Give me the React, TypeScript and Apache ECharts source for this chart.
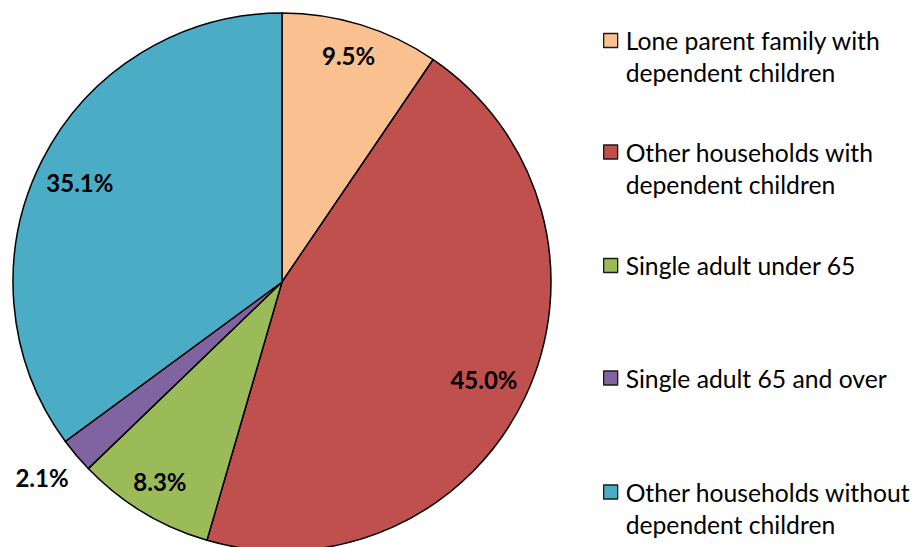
import React, { useEffect, useRef } from "react";
import * as echarts from "echarts";

const categories = [
  "Lone parent family with\ndependent children",
  "Other households with\ndependent children",
  "Single adult under 65",
  "Single adult 65 and over",
  "Other households without\ndependent children",
];
const values = [9.5, 45.0, 8.3, 2.1, 35.1];
const colors = ["#FAC090", "#C0504D", "#9BBB59", "#8064A2", "#4BACC6"];
const outsideLabel = [false, false, false, true, false];
const labelNudges = [
  [0, -10],
  [-3, 1],
  [-5, 6],
  [-3, -4],
  [0, 3],
];
const legendTops = [-7.5, 104, 249.5, 362, 444];

const FONT = "Lato";

export default function App() {
  const ref = useRef<HTMLDivElement>(null);
  useEffect(() => {
    if (!ref.current) return;
    const chart = echarts.init(ref.current, undefined, { renderer: "svg" });
    const center = [282, 282];
    const data = categories.map((name, i) => ({
      name,
      value: values[i],
      itemStyle: { color: colors[i] },
    }));
    const labelText = (p: any) => p.value.toFixed(1) + "%";
    const labelStyle = {
      fontFamily: FONT,
      fontWeight: "bold" as const,
      fontSize: 24,
      color: "#000",
    };
    const legends = categories.map((name, i) => {
      const twoLine = name.includes("\n");
      return {
        data: [name],
        orient: "vertical" as const,
        left: 603,
        top: legendTops[i],
        padding: 0,
        itemWidth: 14,
        itemHeight: 14,
        icon: "rect",
        itemStyle: { borderColor: "#1a1a1a", borderWidth: 1.3 },
        formatter: (n: string) => (twoLine ? " \n" + n : n),
        textStyle: {
          fontFamily: FONT,
          fontSize: 24.7,
          color: "#000",
          lineHeight: 32,
          padding: [0, 0, 0, 3],
        },
        selectedMode: false,
      };
    });
    chart.setOption({
      animation: false,
      backgroundColor: "#fff",
      legend: legends,
      series: [
        {
          type: "pie",
          center,
          radius: [0, 269],
          startAngle: 90,
          clockwise: true,
          silent: true,
          label: { show: false },
          labelLine: { show: false },
          itemStyle: { borderColor: "#000", borderWidth: 1.5 },
          data,
        },
        {
          type: "pie",
          center,
          radius: [178, 269],
          startAngle: 90,
          clockwise: true,
          silent: true,
          legendHoverLink: false,
          minShowLabelAngle: 0,
          itemStyle: { color: "rgba(0,0,0,0)", borderWidth: 0 },
          labelLine: { show: false },
          label: { show: true, position: "inside", formatter: labelText, ...labelStyle },
          data: data.map((d, i) => ({
            ...d,
            itemStyle: { color: "rgba(0,0,0,0)" },
            label: { show: !outsideLabel[i], offset: labelNudges[i] },
          })),
        },
        {
          type: "pie",
          center,
          radius: [290, 324],
          startAngle: 90,
          clockwise: true,
          silent: true,
          legendHoverLink: false,
          minShowLabelAngle: 0,
          itemStyle: { color: "rgba(0,0,0,0)", borderWidth: 0 },
          labelLine: { show: false },
          label: { show: true, position: "inside", formatter: labelText, ...labelStyle },
          data: data.map((d, i) => ({
            ...d,
            itemStyle: { color: "rgba(0,0,0,0)" },
            label: { show: outsideLabel[i], offset: labelNudges[i] },
          })),
        },
      ],
    });
    return () => chart.dispose();
  }, []);
  return (
    <div
      ref={ref}
      style={{ position: "absolute", left: 0, top: 0, width: 917, height: 547 }}
    />
  );
}
